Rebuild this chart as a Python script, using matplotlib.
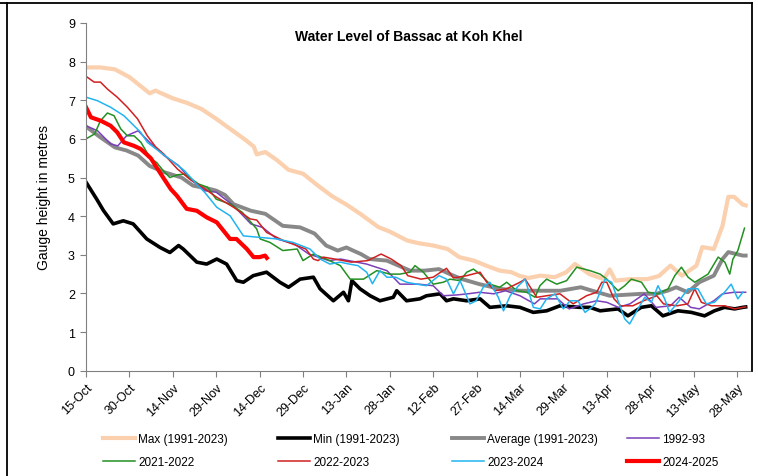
import matplotlib
matplotlib.use("Agg")
import matplotlib.pyplot as plt
from matplotlib.lines import Line2D

plt.rcParams["font.family"] = ["Liberation Sans", "DejaVu Sans"]

# days counted from 15-Oct
tick_days = [0, 15, 30, 45, 60, 75, 90, 105, 120, 135, 150, 165, 180, 195, 210, 225]
tick_labels = ["15-Oct", "30-Oct", "14-Nov", "29-Nov", "14-Dec", "29-Dec", "13-Jan", "28-Jan",
               "12-Feb", "27-Feb", "14-Mar", "29-Mar", "13-Apr", "28-Apr", "13-May", "28-May"]

max_days = [0, 5, 10, 15, 20, 22, 24, 30, 35, 40, 45, 50, 55, 58, 59, 62, 66, 70, 75, 80, 85, 90,
            95, 101, 105, 111, 115, 120, 125, 129, 134, 139, 143, 147, 150, 153, 157, 162, 166,
            169, 174, 179, 181, 183, 188, 194, 198, 202, 206, 211, 213, 217, 220, 222, 224, 227, 228]
max_vals = [7.85, 7.85, 7.8, 7.6, 7.3, 7.18, 7.25, 7.05, 6.93, 6.77, 6.52, 6.25, 5.98, 5.8, 5.6,
            5.66, 5.45, 5.2, 5.1, 4.8, 4.52, 4.3, 4.05, 3.72, 3.6, 3.37, 3.3, 3.24, 3.15, 2.94,
            2.85, 2.7, 2.59, 2.55, 2.45, 2.4, 2.46, 2.42, 2.55, 2.76, 2.5, 2.37, 2.62, 2.33, 2.37,
            2.37, 2.45, 2.72, 2.46, 2.72, 3.2, 3.15, 3.75, 4.5, 4.5, 4.3, 4.28]

min_days = [0, 3.7, 6, 9.4, 12.9, 16.3, 21, 25.6, 29, 32, 33.6, 38.3, 41.7, 45.2, 48.6, 52.1, 54.4,
            57.8, 62.4, 67, 70, 74, 78.6, 80.9, 85.5, 89, 90.7, 91.9, 94.7, 98.2, 101.6, 106.2,
            107.4, 110.8, 115.4, 117.7, 122.4, 124.6, 127, 131.6, 136.2, 139.6, 145.4, 150,
            154.6, 159.2, 163.8, 170.7, 174.2, 177.7, 183.9, 187.3, 191.9, 195.4, 199.4, 204.6,
            209.2, 213.8, 217.2, 220.7, 224.2, 227, 228]
min_vals = [4.88, 4.44, 4.15, 3.8, 3.88, 3.8, 3.41, 3.19, 3.06, 3.24, 3.15, 2.81, 2.76, 2.89, 2.76,
            2.33, 2.29, 2.46, 2.55, 2.29, 2.16, 2.37, 2.42, 2.12, 1.81, 2.03, 1.81, 2.33, 2.12,
            1.94, 1.81, 1.9, 2.07, 1.81, 1.86, 1.94, 1.99, 1.81, 1.86, 1.81, 1.86, 1.64, 1.68,
            1.64, 1.51, 1.55, 1.68, 1.64, 1.64, 1.55, 1.6, 1.42, 1.64, 1.68, 1.42, 1.55, 1.51,
            1.42, 1.55, 1.64, 1.6, 1.64, 1.65]

avg_days = [0, 5, 10, 14, 18, 22, 27, 33, 37, 43, 45, 48, 51, 57, 62, 68, 74, 79, 83, 87, 90, 92,
            95, 98, 104, 108, 112, 117, 122, 127, 130, 136, 143, 150, 157, 164, 171, 175, 181,
            192, 197, 201, 204, 208, 212, 217, 220, 222, 227, 228]
avg_vals = [6.32, 6.04, 5.78, 5.7, 5.57, 5.3, 5.14, 5.0, 4.79, 4.7, 4.66, 4.55, 4.31, 4.14, 4.06,
            3.75, 3.71, 3.55, 3.24, 3.11, 3.19, 3.12, 3.02, 2.89, 2.85, 2.72, 2.59, 2.59, 2.63,
            2.46, 2.37, 2.24, 2.12, 2.07, 2.07, 2.07, 2.16, 2.07, 1.94, 1.99, 1.99, 2.07, 2.16,
            2.03, 2.29, 2.46, 2.89, 3.07, 2.98, 2.98]

y1992_days = [0, 4, 8.5, 11, 14, 18, 22, 27, 32, 36, 41, 45, 51, 57, 61, 66, 72, 77, 84, 88, 97,
              104, 108.5, 115, 120, 123.5, 128, 132, 136, 141, 145, 150, 155, 157, 163, 167, 172,
              176.5, 180, 184, 188, 193, 197, 202, 205, 209, 212, 217, 220, 224, 228]
y1992_vals = [6.34, 6.21, 5.87, 5.82, 6.08, 6.21, 5.91, 5.57, 5.31, 4.96, 4.66, 4.62, 4.27, 3.8,
              3.71, 3.41, 3.28, 3.02, 2.85, 2.89, 2.76, 2.59, 2.24, 2.24, 2.2, 1.94, 1.96, 1.99,
              2.03, 1.99, 2.07, 1.94, 1.73, 1.86, 1.86, 1.6, 1.73, 1.81, 1.77, 1.64, 1.73, 1.99,
              1.64, 1.68, 1.9, 1.64, 1.6, 1.81, 1.99, 2.03, 2.03]

y2021_days = [0, 3, 5, 7.4, 9.7, 12, 14.3, 16.6, 19, 22.4, 24.4, 27, 29, 31.6, 34, 39, 42, 45, 50,
              54, 59, 60.2, 63.6, 68, 73, 75, 78.6, 83, 87.9, 91.3, 95.9, 100.5, 105, 108.5, 112,
              113.7, 116.6, 120, 123.5, 125.8, 129.3, 131.6, 133.9, 136.2, 139.6, 143, 145.4,
              148.9, 152.3, 155.2, 156.9, 159.2, 162.7, 166.1, 169.6, 174.2, 177.7, 180, 183.9,
              186.2, 188.5, 192, 194.3, 197.7, 201.2, 203.5, 205.8, 208.1, 210.4, 215, 218.5,
              220.8, 222.5, 223.6, 225.3, 227.6]
y2021_vals = [6.0, 6.13, 6.47, 6.67, 6.6, 6.26, 6.08, 6.08, 5.91, 5.48, 5.39, 5.15, 5.0, 5.07, 5.09,
              4.83, 4.75, 4.44, 4.31, 4.1, 3.67, 3.41, 3.32, 3.11, 3.15, 2.85, 3.02, 2.89, 2.72,
              2.37, 2.37, 2.59, 2.5, 2.5, 2.55, 2.72, 2.55, 2.24, 2.29, 2.37, 2.33, 2.55, 2.63,
              2.5, 2.24, 2.16, 2.29, 2.07, 2.03, 1.9, 2.2, 2.37, 2.24, 2.33, 2.68, 2.59, 2.5, 2.37,
              2.07, 2.2, 2.37, 2.29, 2.03, 1.99, 2.12, 2.46, 2.68, 2.42, 2.29, 2.5, 2.94, 2.81,
              2.5, 2.89, 3.11, 3.69]

y2022_days = [0, 2.8, 5, 7.4, 10.8, 14.3, 17.8, 21.2, 24, 27, 31.6, 36, 40.8, 45.2, 51, 56.7, 59,
              62.4, 68.2, 72.8, 76, 78.6, 80.2, 82, 86, 91.7, 97.4, 102, 105.5, 108.9, 111.2,
              115.8, 120, 124.6, 127, 131.6, 136.2, 138.5, 141.4, 145.4, 150, 151.8, 155.8, 159.2,
              163.8, 168.4, 173, 176.5, 178.3, 180, 182.5, 184.8, 189, 192.7, 197.3, 199.6, 204.2,
              208, 210.4, 212.7, 216.2, 220.7, 224.2, 227, 228]
y2022_vals = [7.62, 7.47, 7.47, 7.29, 7.08, 6.82, 6.52, 6.08, 5.8, 5.6, 5.22, 4.95, 4.72, 4.49,
              4.23, 3.93, 3.9, 3.58, 3.37, 3.24, 3.15, 2.89, 2.85, 2.94, 2.89, 2.81, 2.85, 3.02,
              2.89, 2.72, 2.46, 2.37, 2.42, 2.65, 2.4, 2.46, 2.55, 2.29, 2.07, 2.12, 2.29, 2.37,
              1.9, 1.94, 1.99, 1.73, 1.94, 2.03, 2.29, 2.29, 1.86, 1.68, 1.68, 1.81, 1.94, 1.73,
              1.68, 1.73, 2.12, 1.77, 1.68, 1.68, 1.6, 1.64, 1.65]

y2023_days = [0, 3.9, 8.5, 13.1, 16.6, 18.9, 21.2, 25.8, 30.4, 34, 38.6, 41, 45.2, 49.8, 54.4, 60.2,
              66, 71.6, 77.4, 80.9, 84.3, 87.9, 91, 94, 97, 99, 101.6, 104, 107, 110.8, 114.3,
              117.7, 122, 124.6, 127, 129.3, 132.7, 134.9, 137.3, 139.6, 142.5, 144.3, 146.6,
              149.5, 151.8, 154.6, 157, 159.2, 162.1, 165, 167.3, 170, 172.5, 174.8, 176, 177.7,
              179.4, 181.7, 183.9, 186.2, 187.9, 190.8, 193.1, 195.4, 197.7, 200, 201.7, 204.6,
              208.1, 211.5, 214.4, 217.2, 220.7, 223, 225.3, 227]
y2023_vals = [7.08, 6.99, 6.82, 6.6, 6.34, 6.17, 5.91, 5.65, 5.39, 5.18, 4.8, 4.62, 4.23, 4.01,
              3.49, 3.45, 3.41, 3.32, 3.15, 2.89, 2.76, 2.81, 2.76, 2.72, 2.55, 2.25, 2.59, 2.42,
              2.42, 2.29, 2.24, 2.2, 2.46, 2.37, 1.99, 2.33, 1.73, 1.81, 2.16, 2.29, 1.9, 1.55,
              1.94, 2.2, 2.37, 1.64, 1.6, 1.86, 1.99, 1.6, 1.81, 1.81, 1.51, 1.64, 1.73, 2.03,
              2.37, 2.29, 1.81, 1.34, 1.21, 1.6, 1.9, 1.77, 2.2, 1.86, 1.51, 1.77, 2.12, 2.12,
              1.73, 1.77, 2.03, 2.24, 1.86, 2.03]

y2024_days = [0, 1.7, 5.1, 8.5, 10.8, 13.1, 16.6, 18.9, 22.4, 25.8, 29.3, 31.4, 34.8, 38.3, 41.7,
              45.2, 49.8, 52, 55.6, 57.9, 60, 61.9, 62.5]
y2024_vals = [6.82, 6.56, 6.47, 6.34, 6.17, 5.91, 5.82, 5.74, 5.5, 5.1, 4.7, 4.53, 4.19, 4.14,
              3.97, 3.84, 3.41, 3.41, 3.15, 2.94, 2.94, 2.98, 2.92]

series = [
    ("Max (1991-2023)", max_days, max_vals, "#FBD0AE", 3.0),
    ("Min (1991-2023)", min_days, min_vals, "#000000", 2.6),
    ("Average (1991-2023)", avg_days, avg_vals, "#888888", 2.8),
    ("1992-93", y1992_days, y1992_vals, "#7B3FB8", 1.1),
    ("2021-2022", y2021_days, y2021_vals, "#229022", 1.1),
    ("2022-2023", y2022_days, y2022_vals, "#D02020", 1.1),
    ("2023-2024", y2023_days, y2023_vals, "#22B4F0", 1.1),
    ("2024-2025", y2024_days, y2024_vals, "#FF0000", 3.0),
]

fig = plt.figure(figsize=(7.58, 4.77), dpi=100)
ax = fig.add_axes([86 / 758, 105.3 / 477, (750 - 86) / 758, (371.7 - 24) / 477])

handles = []
for label, d, v, color, lw in series:
    (h,) = ax.plot(d, v, color=color, linewidth=lw, label=label)
    handles.append(h)

ax.set_xlim(0, 229.5)
ax.set_ylim(0, 9)
ax.set_yticks(range(10))
ax.set_xticks(tick_days)
ax.set_xticklabels(tick_labels, rotation=45, ha="right", rotation_mode="anchor")
ax.tick_params(axis="both", labelsize=9, length=4, color="#808080", direction="out")
ax.tick_params(axis="y", pad=4)
for s in ["top", "right"]:
    ax.spines[s].set_visible(False)
for s in ["left", "bottom"]:
    ax.spines[s].set_color("#808080")
ax.set_ylabel("Gauge height in metres", fontsize=10, labelpad=12)
ax.text(0.486, 0.9626, "Water Level of Bassac at Koh Khel", transform=ax.transAxes,
        ha="center", va="center", fontsize=10, fontweight="bold")

col_x = [103, 278, 452, 627]
for i, x in enumerate(col_x):
    fig.legend(handles=[handles[i], handles[i + 4]], loc="upper left",
               bbox_to_anchor=(x / 758, 1 - 434 / 477), frameon=False, fontsize=8.5,
               handlelength=2.7, handletextpad=0.3, labelspacing=0.95, borderpad=0,
               borderaxespad=0)

# outer frame of the original screenshot
for xs, ys in [([0, 752], [4, 4]), ([7, 7], [4, 477]), ([752, 752], [4, 372])]:
    fig.add_artist(Line2D([x / 758 for x in xs], [1 - y / 477 for y in ys],
                          color="black", linewidth=1.3))

fig.savefig("out.png", dpi=100)
